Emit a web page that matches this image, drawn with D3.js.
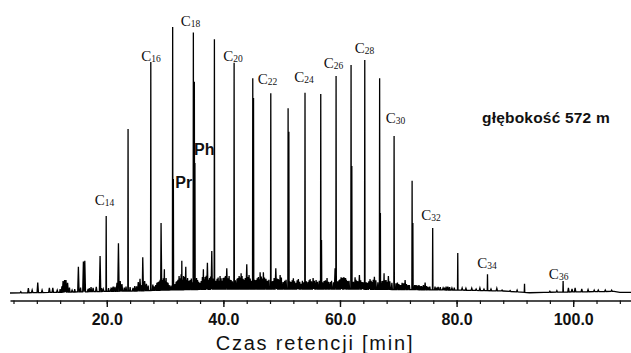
<!DOCTYPE html>
<html>
<head>
<meta charset="utf-8">
<script src="https://cdn.jsdelivr.net/npm/d3@7"></script>
<style>
  html, body { margin: 0; padding: 0; background: #fff; }
  svg { display: block; }
</style>
</head>
<body>
<svg id="chart" width="631" height="353"></svg>
<script>
// ---------------- DATA ----------------
// main peaks: n-alkanes, Pr, Ph and close shoulders (retention time [min], relative intensity)
const peakTimes   = [19.9, 23.65, 27.55, 31.3, 31.42, 34.85, 35.02, 35.12, 38.46, 41.84, 45.04, 45.17, 48.13, 51.1, 51.23, 54.0, 56.7, 56.83, 59.33, 61.9, 62.03, 64.25, 66.8, 66.93, 69.28, 72.37, 72.5, 75.9, 80.2, 85.3, 91.65, 98.27];
const peakHeights = [28.9, 61.7, 86.8, 100, 42.9, 97.9, 79.4, 48.9, 95.4, 86.6, 80.7, 73.3, 75.1, 69.5, 60.6, 75.3, 74.8, 19.9, 81.6, 85.7, 47.7, 87.6, 80.7, 30.1, 59.0, 42.2, 26.3, 24.4, 15.0, 7.0, 3.5, 4.5];

// minor peaks
const minorTimes = [5.25, 6.55, 7.2, 8.16, 8.9, 10.15, 10.74, 11.5, 12.5, 12.76,
  13.0, 13.28, 14.05, 15.13, 15.99, 16.23, 16.8, 17.65, 18.2, 18.85,
  19.4, 20.7, 21.4, 21.75, 22.0, 22.3, 22.6, 24.5, 25.4, 25.7,
  26.17, 26.5, 28.4, 28.8, 29.31, 29.57, 29.88, 30.17, 30.5, 32.06,
  32.4, 32.87, 33.17, 33.55, 33.86, 34.3, 35.57, 36.0, 36.57, 36.86,
  37.26, 37.63, 38.01, 38.92, 39.43, 39.95, 40.58, 40.98, 41.32, 42.35,
  42.7, 43.04, 43.38, 44.01, 44.4, 45.6, 46.3, 46.86, 47.3, 48.5,
  48.99, 49.4, 49.73, 50.24, 51.6, 52.0, 52.47, 52.86, 53.33, 54.53,
  54.87, 55.39, 55.9, 57.27, 57.78, 58.3, 59.16, 59.85, 60.19, 60.58,
  60.96, 61.3, 62.59, 62.93, 63.33, 63.79, 64.73, 65.16, 65.5, 65.9,
  67.22, 67.56, 67.9, 68.3, 69.85, 70.3, 70.65, 71.17, 71.68, 73.05,
  73.74, 74.6, 75.1, 76.83, 77.68, 78.5, 79.2, 80.95, 81.6, 82.6,
  83.35, 84.0, 84.7, 85.9, 86.9, 87.8, 89.18, 90.38, 96.0, 97.2,
  99.18, 99.8, 100.33, 101.47, 102.55, 103.6, 104.3, 105.5, 106.6];
const minorHeights = [0.5, 1.8, 1.1, 3.9, 1.1, 1.9, 1.9, 1.1, 4.5, 4.9,
  4.9, 3.8, 1.1, 9.9, 11.8, 12.1, 1.5, 1.9, 2.3, 13.9,
  1.5, 1.5, 2.3, 3.8, 18.7, 4.5, 3.4, 1.9, 4.1, 5.3,
  13.4, 4.5, 3.0, 4.1, 26.3, 4.9, 8.9, 5.6, 3.8, 4.5,
  6.4, 12.1, 6.4, 9.9, 5.6, 4.9, 4.9, 3.8, 8.9, 6.0,
  11.4, 5.6, 15.8, 5.3, 6.4, 5.6, 9.3, 6.4, 4.9, 5.3,
  6.4, 7.4, 5.3, 10.8, 6.8, 4.9, 7.8, 7.8, 5.3, 4.5,
  9.3, 5.3, 6.8, 4.1, 4.1, 5.5, 3.8, 5.2, 3.4, 4.1,
  5.2, 5.6, 4.9, 4.5, 5.6, 4.1, 9.3, 4.9, 5.9, 5.9,
  5.6, 4.5, 5.9, 4.5, 6.8, 4.1, 3.8, 5.2, 4.1, 6.1,
  4.5, 7.4, 4.9, 6.4, 3.9, 3.0, 3.8, 4.9, 3.0, 3.0,
  2.6, 3.9, 2.3, 2.3, 1.9, 2.4, 1.9, 1.9, 1.8, 1.8,
  1.5, 1.9, 1.5, 1.5, 1.8, 1.1, 0.9, 1.1, 0.7, 0.9,
  1.9, 1.5, 1.9, 1.5, 1.3, 1.1, 1.1, 1.1, 1.1];

// unresolved background signal (dense small spikes)
const noiseTimes = [12.0, 12.3, 13.6, 14.5, 15.5, 17.0, 17.3, 19.1, 20.3, 20.9,
  21.1, 23.0, 23.3, 24.0, 24.8, 25.1, 26.0, 26.8, 27.1, 27.9,
  28.1, 28.6, 29.0, 29.15, 29.7, 30.0, 30.35, 30.7, 31.0, 31.7,
  31.9, 32.2, 32.6, 32.75, 33.0, 33.35, 33.7, 34.05, 34.5, 34.7,
  35.4, 35.75, 36.2, 36.4, 36.7, 37.05, 37.45, 37.8, 38.2, 38.7,
  39.1, 39.25, 39.6, 39.8, 40.15, 40.35, 40.8, 41.15, 41.55, 42.05,
  42.5, 42.9, 43.2, 43.55, 43.75, 44.2, 44.6, 44.8, 45.35, 45.8,
  46.0, 46.15, 46.5, 46.7, 47.05, 47.55, 47.8, 48.3, 48.7, 49.2,
  49.55, 49.95, 50.5, 50.75, 51.4, 51.8, 52.2, 52.65, 53.1, 53.55,
  53.8, 54.25, 54.7, 55.1, 55.6, 56.15, 56.45, 57.0, 57.5, 58.0,
  58.55, 58.9, 59.6, 60.0, 60.4, 60.75, 61.1, 61.55, 62.3, 62.75,
  63.1, 63.55, 64.0, 64.5, 64.95, 65.35, 65.7, 66.15, 66.5, 67.05,
  67.4, 67.7, 68.1, 68.55, 68.9, 69.6, 70.1, 70.5, 70.9, 71.4,
  71.9, 72.8, 73.3, 73.55, 74.0, 74.3, 74.85, 75.4, 76.3, 76.6,
  77.2, 77.9, 78.2, 78.8, 79.6];
const noiseHeights = [1.5, 2.5, 2.0, 1.5, 2.0, 1.8, 2.2, 1.8, 1.8, 2.0,
  2.4, 2.0, 2.4, 2.2, 2.6, 2.5, 3.0, 3.5, 2.8, 3.2,
  2.5, 3.8, 4.4, 5.0, 5.5, 4.6, 4.0, 3.0, 2.8, 3.4,
  4.2, 5.0, 5.5, 7.0, 5.0, 6.0, 5.0, 4.6, 5.4, 4.0,
  5.6, 4.2, 4.5, 6.0, 5.2, 6.5, 5.0, 6.2, 5.4, 4.6,
  5.8, 4.6, 5.5, 4.6, 5.8, 6.4, 5.5, 5.0, 4.4, 4.8,
  5.6, 5.8, 6.4, 5.0, 5.6, 6.0, 5.4, 4.6, 5.0, 5.5,
  6.0, 5.2, 6.2, 5.4, 5.8, 4.6, 5.0, 4.4, 5.6, 5.4,
  5.0, 5.8, 4.6, 5.0, 4.4, 4.8, 4.4, 4.8, 4.2, 4.6,
  4.0, 4.4, 4.8, 4.4, 4.6, 4.2, 4.6, 4.0, 4.8, 4.2,
  4.6, 4.0, 4.4, 5.2, 5.6, 5.8, 5.0, 4.6, 4.2, 5.0,
  4.4, 4.8, 4.0, 4.0, 4.4, 4.6, 5.0, 4.8, 4.0, 3.8,
  4.6, 4.8, 4.2, 4.4, 3.8, 3.6, 3.4, 3.0, 3.6, 3.4,
  3.0, 3.0, 2.8, 3.0, 2.6, 3.0, 2.6, 2.4, 2.4, 2.0,
  2.2, 2.0, 2.4, 2.2, 2.0];

// baseline drift
const baseTimes  = [3.4, 10, 15, 20, 25, 30, 40, 50, 60, 70, 80, 88, 92.5, 95, 107, 108, 110];
const baseValues = [0, 0.2, 0.4, 0.6, 0.75, 1.1, 1.5, 1.5, 1.5, 1.3, 1.1, 0.75, 0.1, 0.25, 0.6, 0.25, 0.25];

// peak labels (n-alkane carbon number) and their anchor (time, intensity)
const labelNames   = ["14", "16", "18", "20", "22", "24", "26", "28", "30", "32", "34", "36"];
const labelTimes   = [19.62, 27.6, 34.37, 41.66, 47.58, 53.84, 58.9, 64.22, 69.54, 75.63, 85.23, 97.5];
const labelHeights = [33.1, 87.2, 100.4, 87.2, 78.6, 79.3, 84.6, 90.2, 63.9, 27.4, 9.4, 5.3];

const isoNames   = ["Pr", "Ph"];
const isoTimes   = [31.74, 34.97];
const isoHeights = [39.5, 51.9];

const majorTicks = [20, 40, 60, 80, 100];
const minorTicks = d3.range(4, 110, 4);
const xTitle = "Czas retencji  [min]";
const depthNote = "głębokość 572 m";

// ---------------- SCALES ----------------
const svg = d3.select("#chart");
const x = d3.scaleLinear().domain([3.4, 110]).range([10, 631.5]);
const y = d3.scaleLinear().domain([0, 100]).range([293, 27]);
const base = d3.scaleLinear().domain(baseTimes).range(baseValues).clamp(true);

// ---------------- TRACE ----------------
let pts = baseTimes.map((t, i) => [t, baseValues[i]]);
const addPeak = (t, h, w) => {
  pts.push([t - w, base(t - w)], [t, h], [t + w, base(t + w)]);
};
noiseTimes.forEach((t, i) => addPeak(t, noiseHeights[i], 0.09));
minorTimes.forEach((t, i) => addPeak(t, minorHeights[i], 0.12));
peakTimes.forEach((t, i) => addPeak(t, peakHeights[i], 0.045));
pts.sort((a, b) => a[0] - b[0]);

const line = d3.line().x(d => x(d[0])).y(d => y(d[1]));
svg.append("path")
  .attr("d", line(pts))
  .attr("fill", "none")
  .attr("stroke", "#000")
  .attr("stroke-width", 1.3)
  .attr("stroke-linejoin", "miter");

// ---------------- AXIS ----------------
const axisY = 300.5;
const gMinor = svg.append("g").attr("transform", `translate(0,${axisY})`)
  .call(d3.axisBottom(x).tickValues(minorTicks).tickSize(3.5).tickSizeOuter(0).tickFormat(""));
gMinor.select(".domain").attr("stroke", "#111").attr("stroke-width", 1.6);
gMinor.selectAll(".tick line").attr("stroke", "#111").attr("stroke-width", 1.2);

const gMajor = svg.append("g").attr("transform", `translate(0,${axisY})`)
  .call(d3.axisBottom(x).tickValues(majorTicks).tickSize(6.5).tickSizeOuter(0).tickFormat(d3.format(".1f")));
gMajor.select(".domain").remove();
gMajor.selectAll(".tick line").attr("stroke", "#111").attr("stroke-width", 1.4);
gMajor.selectAll(".tick text")
  .attr("y", 24.5).attr("dy", 0)
  .attr("fill", "#111")
  .style("font-family", "'Liberation Sans', Arial, sans-serif")
  .style("font-size", "16px")
  .style("font-weight", "bold");

svg.append("text")
  .attr("x", 315).attr("y", 350)
  .attr("text-anchor", "middle")
  .attr("fill", "#111")
  .style("font-family", "'Liberation Sans', Arial, sans-serif")
  .style("font-size", "20px")
  .style("letter-spacing", "1.8px")
  .text(xTitle);

// ---------------- LABELS ----------------
labelNames.forEach((n, i) => {
  const t = svg.append("text")
    .attr("x", x(labelTimes[i])).attr("y", y(labelHeights[i]))
    .attr("text-anchor", "middle")
    .attr("fill", "#111")
    .style("font-family", "'Liberation Serif', 'Times New Roman', serif");
  t.append("tspan").style("font-size", "15px").text("C");
  t.append("tspan").style("font-size", "9.5px").attr("dy", 1).text(n);
});

isoNames.forEach((n, i) => {
  svg.append("text")
    .attr("x", x(isoTimes[i])).attr("y", y(isoHeights[i]))
    .attr("fill", "#111")
    .style("font-family", "'Liberation Sans', Arial, sans-serif")
    .style("font-size", "16px")
    .style("font-weight", "bold")
    .text(n);
});

svg.append("text")
  .attr("x", 482).attr("y", 123)
  .attr("fill", "#111")
  .style("font-family", "'Liberation Sans', Arial, sans-serif")
  .style("font-size", "15.5px")
  .style("font-weight", "bold")
  .style("letter-spacing", "0.2px")
  .text(depthNote);
</script>
</body>
</html>
